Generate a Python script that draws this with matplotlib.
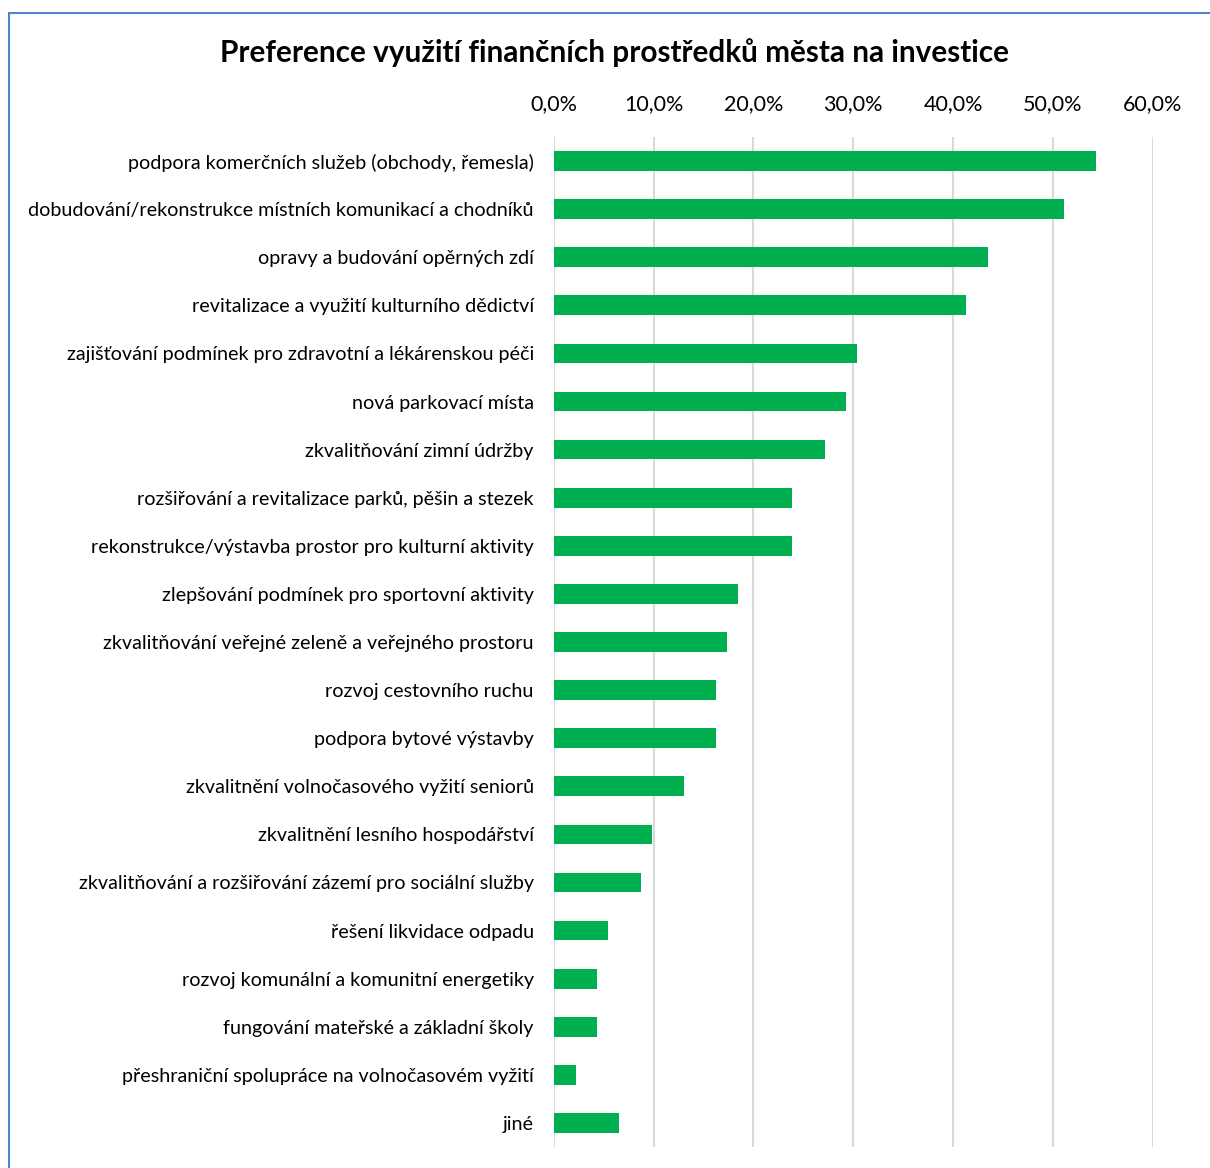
import matplotlib.pyplot as plt
from matplotlib.patches import Rectangle
from matplotlib.ticker import FuncFormatter

# Categories (top to bottom) and share of respondents
categories = [
    'podpora komerčních služeb (obchody, řemesla)',
    'dobudování/rekonstrukce místních komunikací a chodníků',
    'opravy a budování opěrných zdí',
    'revitalizace a využití kulturního dědictví',
    'zajišťování podmínek pro zdravotní a lékárenskou péči',
    'nová parkovací místa',
    'zkvalitňování zimní údržby',
    'rozšiřování a revitalizace parků, pěšin a stezek',
    'rekonstrukce/výstavba prostor pro kulturní aktivity',
    'zlepšování podmínek pro sportovní aktivity',
    'zkvalitňování veřejné zeleně a veřejného prostoru',
    'rozvoj cestovního ruchu',
    'podpora bytové výstavby',
    'zkvalitnění volnočasového vyžití seniorů',
    'zkvalitnění lesního hospodářství',
    'zkvalitňování a rozšiřování zázemí pro sociální služby',
    'řešení likvidace odpadu',
    'rozvoj komunální a komunitní energetiky',
    'fungování mateřské a základní školy',
    'přeshraniční spolupráce na volnočasovém vyžití',
    'jiné',
]
values = [54.3, 51.1, 43.5, 41.3, 30.4, 29.3, 27.2, 23.9, 23.9, 18.5, 17.4,
          16.3, 16.3, 13.0, 9.8, 8.7, 5.4, 4.3, 4.3, 2.2, 6.5]
xticks = [0, 10, 20, 30, 40, 50, 60]
title = 'Preference využití finančních prostředků města na investice'

plt.rcParams['font.family'] = ['Lato', 'DejaVu Sans']

fig = plt.figure(figsize=(12.1, 11.68), dpi=100)
ax = fig.add_axes([0.4577, 0.018, 0.4949, 0.8647])

# blue frame of the chart area (cropped at right and bottom)
fig.patches.append(Rectangle((8.5 / 1210, -0.1), 1.2, (1168 - 12.5) / 1168 + 0.1,
                             transform=fig.transFigure, fill=False,
                             edgecolor='#4A86C8', linewidth=1.5))

y = list(range(len(categories)))
ax.barh(y, values, height=0.41, color='#00B050', zorder=3)

ax.set_ylim(len(categories) - 0.5, -0.5)
ax.set_xlim(0, 60)
ax.set_yticks(y)
ax.set_yticklabels(categories, fontsize=14.2)
ax.set_xticks(xticks)
ax.xaxis.set_major_formatter(FuncFormatter(lambda v, p: f'{v:.1f}%'.replace('.', ',')))
ax.xaxis.tick_top()
ax.tick_params(axis='x', labelsize=15.5, length=0, pad=16.5)
ax.tick_params(axis='y', length=0, pad=14.4)
ax.grid(axis='x', color='#D9D9D9', linewidth=1.5, zorder=0)
for s in ax.spines.values():
    s.set_visible(False)

fig.text(615 / 1210, 1 - 53 / 1168, title, ha='center', va='center',
         fontsize=21.4, fontweight='bold')

fig.savefig('out.png', dpi=100)
